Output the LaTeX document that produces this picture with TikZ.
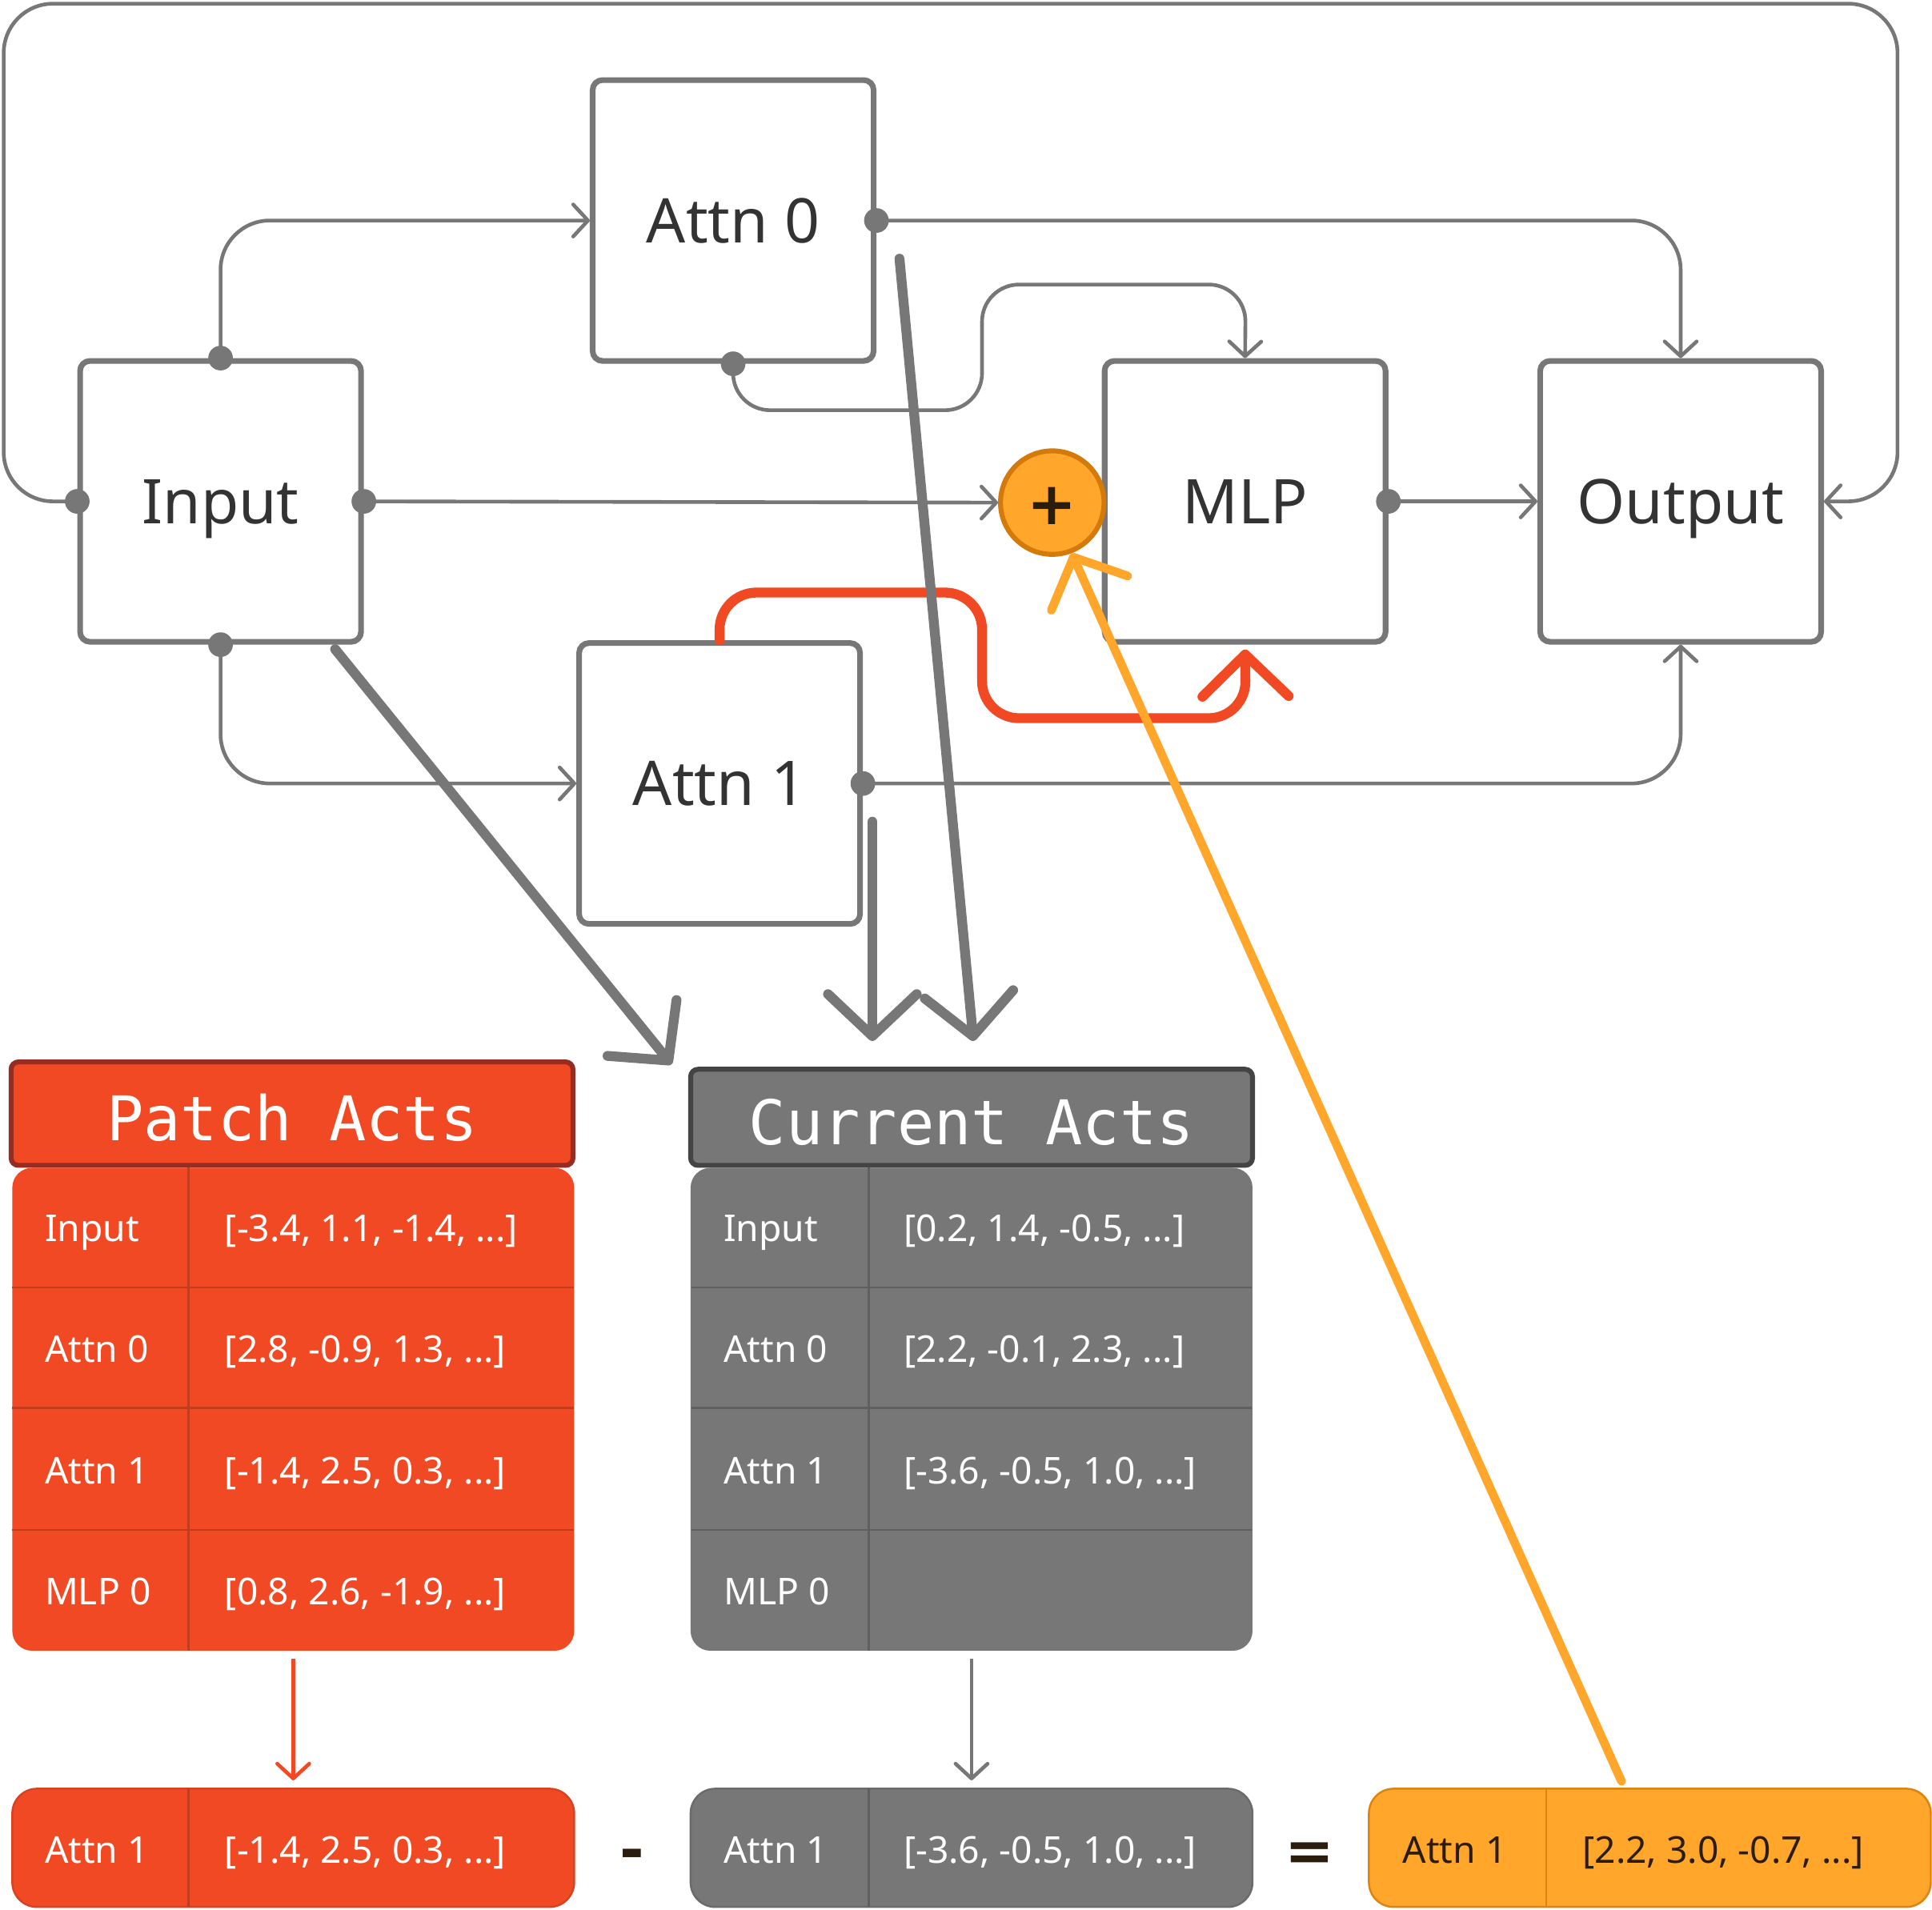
\documentclass[tikz,border=0pt]{standalone}
\usepackage{fontspec}
\setmainfont{Noto Sans}
\newfontfamily\monofont{DejaVu Sans Mono}
\newfontfamily\opfont{DejaVu Sans}
\usetikzlibrary{arrows.meta}
\definecolor{lgray}{HTML}{777777}
\definecolor{dgray}{HTML}{444444}
\definecolor{ink}{HTML}{333333}
\definecolor{pred}{HTML}{F04923}
\definecolor{dred}{HTML}{962D22}
\definecolor{orng}{HTML}{FFA62B}
\definecolor{dorng}{HTML}{D47A0A}
\definecolor{brown}{HTML}{2B1D0E}
\tikzset{
  blk/.style={draw=lgray, line width=2.3pt, rounded corners=4pt, minimum width=114pt, minimum height=114pt,
    text=ink, font=\fontsize{25}{30}\selectfont, text height=18pt, text depth=0pt},
  pin/.style={circle, fill=lgray, inner sep=0pt, minimum size=10pt},
  link/.style={draw=lgray, line width=1.5pt, rounded corners=20pt, -{Straight Barb[length=6pt,width=13pt,round]}},
  fat/.style={draw=lgray, line width=4pt, line cap=round, -{Straight Barb[length=17pt,width=36pt,round]}},
  head/.style={line width=2pt, rounded corners=3pt, minimum width=228pt, inner sep=0pt, text=white,
    font=\monofont\fontsize{25}{30}\selectfont, text height=22pt, text depth=0pt},
  tbody/.style={rounded corners=8pt, minimum width=228pt, minimum height=196pt, inner sep=0pt},
  res/.style={rounded corners=10pt, minimum width=228pt, minimum height=48pt, inner sep=0pt, line width=0.8pt},
  cell/.style={anchor=west, inner sep=0pt, font=\fontsize{15}{18}\selectfont, text height=10.7pt, text depth=0pt},
  op/.style={anchor=base, font=\opfont\bfseries\fontsize{24}{28}\selectfont, text=brown, inner sep=0pt}
}
\begin{document}
\begin{tikzpicture}[x=0.5pt, y=-0.5pt]
  \useasboundingbox (0,0) rectangle (1568,1550);
  % model
  \node[blk] (inp) at (179,407) {Input};
  \node[blk] (att0) at (595,179) {Attn 0};
  \node[blk] (att1) at (584,636) {Attn 1};
  \node[blk] (mlp) at (1010.5,407) {MLP};
  \node[blk] (out) at (1364,407) {Output};
  \node[circle, draw=dorng, fill=orng, line width=2pt, minimum size=42pt, inner sep=0pt] (plus) at (854,408) {};
  \node[op, anchor=center] (plussign) at (854,411) {+};
  \draw[link] (inp.north) |- (att0.west);
  \draw[link] (inp.east) -- (plus.west);
  \draw[link] (inp.south) |- (att1.west);
  \draw[link] (att0.east) -| (out.north);
  \draw[link, rounded corners=15pt] (att0.south) |- (797,333) |- (1011,231) -- (mlp.north);
  \draw[link] (att1.east) -| (out.south);
  \draw[link] (mlp.east) -- (out.west);
  \draw[link] (inp.west) -- (3,407) -- (3,3) -- (1540,3) -- (1540,407) -- (out.east);
  \foreach \a in {north,south,east,west} {\node[pin] (inp-\a) at (inp.\a) {};}
  \node[pin] (att0-east) at (att0.east) {};
  \node[pin] (att0-south) at (att0.south) {};
  \node[pin] (att1-east) at (att1.east) {};
  \node[pin] (mlp-east) at (mlp.east) {};
  \draw[pred, line width=4pt, line cap=round, rounded corners=15pt, -{Straight Barb[length=17pt,width=35pt,round]}, shorten >=2pt]
    (att1.north) |- (797,481) |- (1011,583) -- (mlp.south);
  % tables
  \node[head, draw=dred, fill=pred, minimum height=42pt] (phead) at (237,904) {Patch Acts};
  \node[tbody, fill=pred] (pbody) at (238,1144) {};
  \node[head, draw=dgray, fill=lgray, minimum height=39pt] (chead) at (788.5,907) {Current Acts};
  \node[tbody, fill=lgray] (cbody) at (788.5,1144) {};
  \foreach \y in {1045,1143,1242} {
    \draw[pred!82!black, line width=0.8pt] (10,\y) -- (466,\y);
    \draw[lgray!80!black, line width=0.8pt] (561,\y) -- (1016,\y);
  }
  \draw[pred!82!black, line width=0.8pt] (153,948) -- (153,1340);
  \draw[lgray!80!black, line width=0.8pt] (705,948) -- (705,1340);
  \foreach \k/\v/\w [count=\i] in {Input/{[-3.4, 1.1, -1.4, ...]}/{[0.2, 1.4, -0.5, ...]},
      Attn 0/{[2.8, -0.9, 1.3, ...]}/{[2.2, -0.1, 2.3, ...]},
      Attn 1/{[-1.4, 2.5, 0.3, ...]}/{[-3.6, -0.5, 1.0, ...]},
      MLP 0/{[0.8, 2.6, -1.9, ...]}/{}} {
    \pgfmathsetmacro\ry{997+98.3*(\i-1)}
    \node[cell, text=white] (pk\i) at (36,\ry) {\k};
    \node[cell, text=white] (pv\i) at (182,\ry) {\v};
    \node[cell, text=white] (ck\i) at (587,\ry) {\k};
    \node[cell, text=white] (cv\i) at (733,\ry) {\w};
  }
  % results
  \node[res, fill=pred, draw=pred!90!black] (pres) at (238,1500) {};
  \node[res, fill=lgray, draw=lgray!90!black] (cres) at (788.5,1500) {};
  \node[res, fill=orng, draw=dorng!80!orng] (ores) at (1339,1500) {};
  \draw[pred!82!black, line width=0.8pt] (153,1452) -- (153,1548);
  \draw[lgray!80!black, line width=0.8pt] (705,1452) -- (705,1548);
  \draw[dorng!80!orng, line width=0.8pt] (1255,1452) -- (1255,1548);
  \node[cell, text=white] (prk) at (36,1502) {Attn 1};
  \node[cell, text=white] (prv) at (182,1502) {[-1.4, 2.5, 0.3, ...]};
  \node[cell, text=white] (crk) at (587,1502) {Attn 1};
  \node[cell, text=white] (crv) at (733,1502) {[-3.6, -0.5, 1.0, ...]};
  \node[cell, text=brown] (ork) at (1138,1502) {Attn 1};
  \node[cell, text=brown] (orv) at (1284,1502) {[2.2, 3.0, -0.7, ...]};
  \node[op] (minus) at (513,1518) {-};
  \node[op] (eq) at (1063,1519) {=};
  \draw[link, draw=pred, shorten <=3pt, shorten >=3pt] (pbody.south) -- (pres.north);
  \draw[link, shorten <=3pt, shorten >=3pt] (cbody.south) -- (cres.north);
  % thick arrows
  \coordinate (g1) at (272,527);
  \coordinate (g1e) at (545,864);
  \coordinate (g2) at (708,667);
  \coordinate (g2e) at (708,845);
  \coordinate (g3) at (730,210);
  \coordinate (g3e) at (790,845);
  \coordinate (otail) at (1316,1446);
  \draw[fat] (g1) -- (g1e);
  \draw[fat] (g2) -- (g2e);
  \draw[fat] (g3) -- (g3e);
  \draw[orng, line width=3.5pt, line cap=round, -{Straight Barb[length=16pt,width=34pt,round]}] (otail) -- (plus.-69);
\end{tikzpicture}
\end{document}
